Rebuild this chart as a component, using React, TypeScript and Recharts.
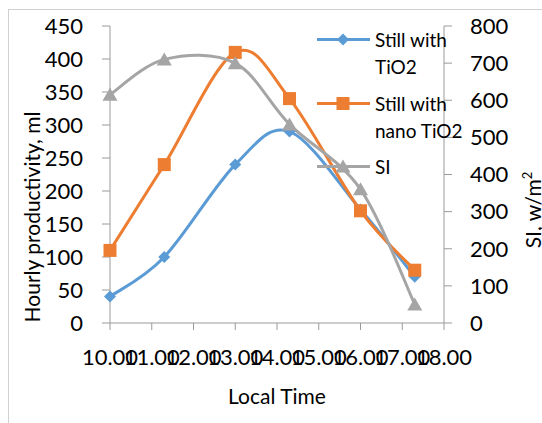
import { LineChart, Line, XAxis, YAxis } from 'recharts'

const TIME = [10, 11.3, 13, 14.3, 16, 17.3]
const STILL_TIO2 = [40, 100, 240, 290, 172, 70]
const STILL_NANO_TIO2 = [110, 240, 410, 340, 170, 80]
const SI = [615, 710, 700, 535, 360, 50]

const X_TICKS = [10, 11, 12, 13, 14, 15, 16, 17, 18]
const LEFT_TICKS = [0, 50, 100, 150, 200, 250, 300, 350, 400, 450]
const RIGHT_TICKS = [0, 100, 200, 300, 400, 500, 600, 700, 800]

const data = TIME.map((t, i) => ({
  t,
  tio2: STILL_TIO2[i],
  nano: STILL_NANO_TIO2[i],
  si: SI[i],
}))

const FONT = 'Lato, "Open Sans", sans-serif'
const AXIS = '#9a9a9a'

// Excel-style smoothing: bezier with control points at (p2 - p0) / 6
const excelSmooth = (context: any) => {
  let pts: number[][] = []
  return {
    areaStart() {},
    areaEnd() {},
    lineStart() { pts = [] },
    point(x: number, y: number) { pts.push([+x, +y]) },
    lineEnd() {
      const n = pts.length
      if (!n) return
      context.moveTo(pts[0][0], pts[0][1])
      for (let i = 0; i < n - 1; i++) {
        const p0 = pts[Math.max(i - 1, 0)]
        const p1 = pts[i]
        const p2 = pts[i + 1]
        const p3 = pts[Math.min(i + 2, n - 1)]
        context.bezierCurveTo(
          p1[0] + (p2[0] - p0[0]) / 6, p1[1] + (p2[1] - p0[1]) / 6,
          p2[0] - (p3[0] - p1[0]) / 6, p2[1] - (p3[1] - p1[1]) / 6,
          p2[0], p2[1]
        )
      }
    },
  }
}

const Diamond = ({ cx, cy, fill }: any) => (
  <path d={`M${cx},${cy - 6}L${cx + 6},${cy}L${cx},${cy + 6}L${cx - 6},${cy}Z`} fill={fill} />
)
const Square = ({ cx, cy, fill }: any) => (
  <rect x={cx - 6.5} y={cy - 6.5} width={13} height={13} fill={fill} />
)
const Triangle = ({ cx, cy, fill }: any) => (
  <path d={`M${cx},${cy - 7}L${cx + 7.5},${cy + 6}L${cx - 7.5},${cy + 6}Z`} fill={fill} />
)

const SERIES = [
  { key: 'tio2', axis: 'left', color: '#5B9BD5', lines: ['Still with', 'TiO2'], Marker: Diamond },
  { key: 'nano', axis: 'left', color: '#ED7D31', lines: ['Still with', 'nano TiO2'], Marker: Square },
  { key: 'si', axis: 'right', color: '#A5A5A5', lines: ['SI'], Marker: Triangle },
]

const tickStyle = { fontSize: 22, fill: '#000', fontFamily: FONT }

export default function App() {
  return (
    <div style={{ position: 'absolute', left: 0, top: 0, width: 542, height: 423, overflow: 'hidden', background: '#fff', fontFamily: FONT }}>
      <div style={{ position: 'absolute', left: 8, top: 9, width: 600, height: 500, border: '1px solid #d0d0d0' }} />
      <LineChart
        width={542}
        height={423}
        data={data}
        margin={{ top: 26, right: 0, bottom: 0, left: 0 }}
        style={{ position: 'absolute', left: 0, top: 0 }}
      >
        <XAxis
          dataKey="t"
          type="number"
          domain={[10, 18]}
          ticks={X_TICKS}
          interval={0}
          tickFormatter={(v: number) => v.toFixed(2)}
          tick={tickStyle}
          tickSize={7}
          tickMargin={19}
          height={100}
          stroke={AXIS}
          label={{
            content: () => (
              <text x={277} y={404} textAnchor="middle" fontSize={21} fontFamily={FONT} fill="#000">
                Local Time
              </text>
            ),
          }}
        />
        <YAxis
          yAxisId="left"
          domain={[0, 450]}
          ticks={LEFT_TICKS}
          interval={0}
          width={110}
          tick={tickStyle}
          tickSize={8}
          tickMargin={19}
          stroke={AXIS}
          label={{
            content: () => (
              <text
                x={40}
                y={217}
                transform="rotate(-90 40 217)"
                textAnchor="middle"
                fontSize={21}
                fontFamily={FONT}
                fill="#000"
              >
                Hourly productivity, ml
              </text>
            ),
          }}
        />
        <YAxis
          yAxisId="right"
          orientation="right"
          domain={[0, 800]}
          ticks={RIGHT_TICKS}
          interval={0}
          width={98}
          tick={tickStyle}
          tickSize={8}
          tickMargin={18}
          stroke={AXIS}
          label={{
            content: () => (
              <text
                x={541}
                y={210}
                transform="rotate(-90 541 210)"
                textAnchor="middle"
                fontSize={21}
                fontFamily={FONT}
                fill="#000"
              >
                SI, w/m<tspan fontSize={13} dy={-9}>2</tspan>
              </text>
            ),
          }}
        />
        {SERIES.map(s => (
          <Line
            key={s.key}
            yAxisId={s.axis}
            dataKey={s.key}
            type={excelSmooth as any}
            stroke={s.color}
            strokeWidth={3}
            dot={(p: any) => <s.Marker key={`${s.key}-${p.index}`} cx={p.cx} cy={p.cy} fill={s.color} />}
            activeDot={false}
            isAnimationActive={false}
          />
        ))}
      </LineChart>
      <div style={{ position: 'absolute', left: 316, top: 26 }}>
        {SERIES.map(s => (
          <div key={s.key} style={{ position: 'relative', height: s.lines.length * 27, marginBottom: 9.5 }}>
            <svg width={56} height={27} style={{ position: 'absolute', left: 0, top: 0 }}>
              <line x1={1} y1={13.5} x2={54} y2={13.5} stroke={s.color} strokeWidth={3} />
              <s.Marker cx={27} cy={13.5} fill={s.color} />
            </svg>
            <div style={{ position: 'absolute', left: 59, top: 0, fontSize: 19, lineHeight: '27px', color: '#000', whiteSpace: 'nowrap' }}>
              {s.lines.map(l => <div key={l}>{l}</div>)}
            </div>
          </div>
        ))}
      </div>
    </div>
  )
}
